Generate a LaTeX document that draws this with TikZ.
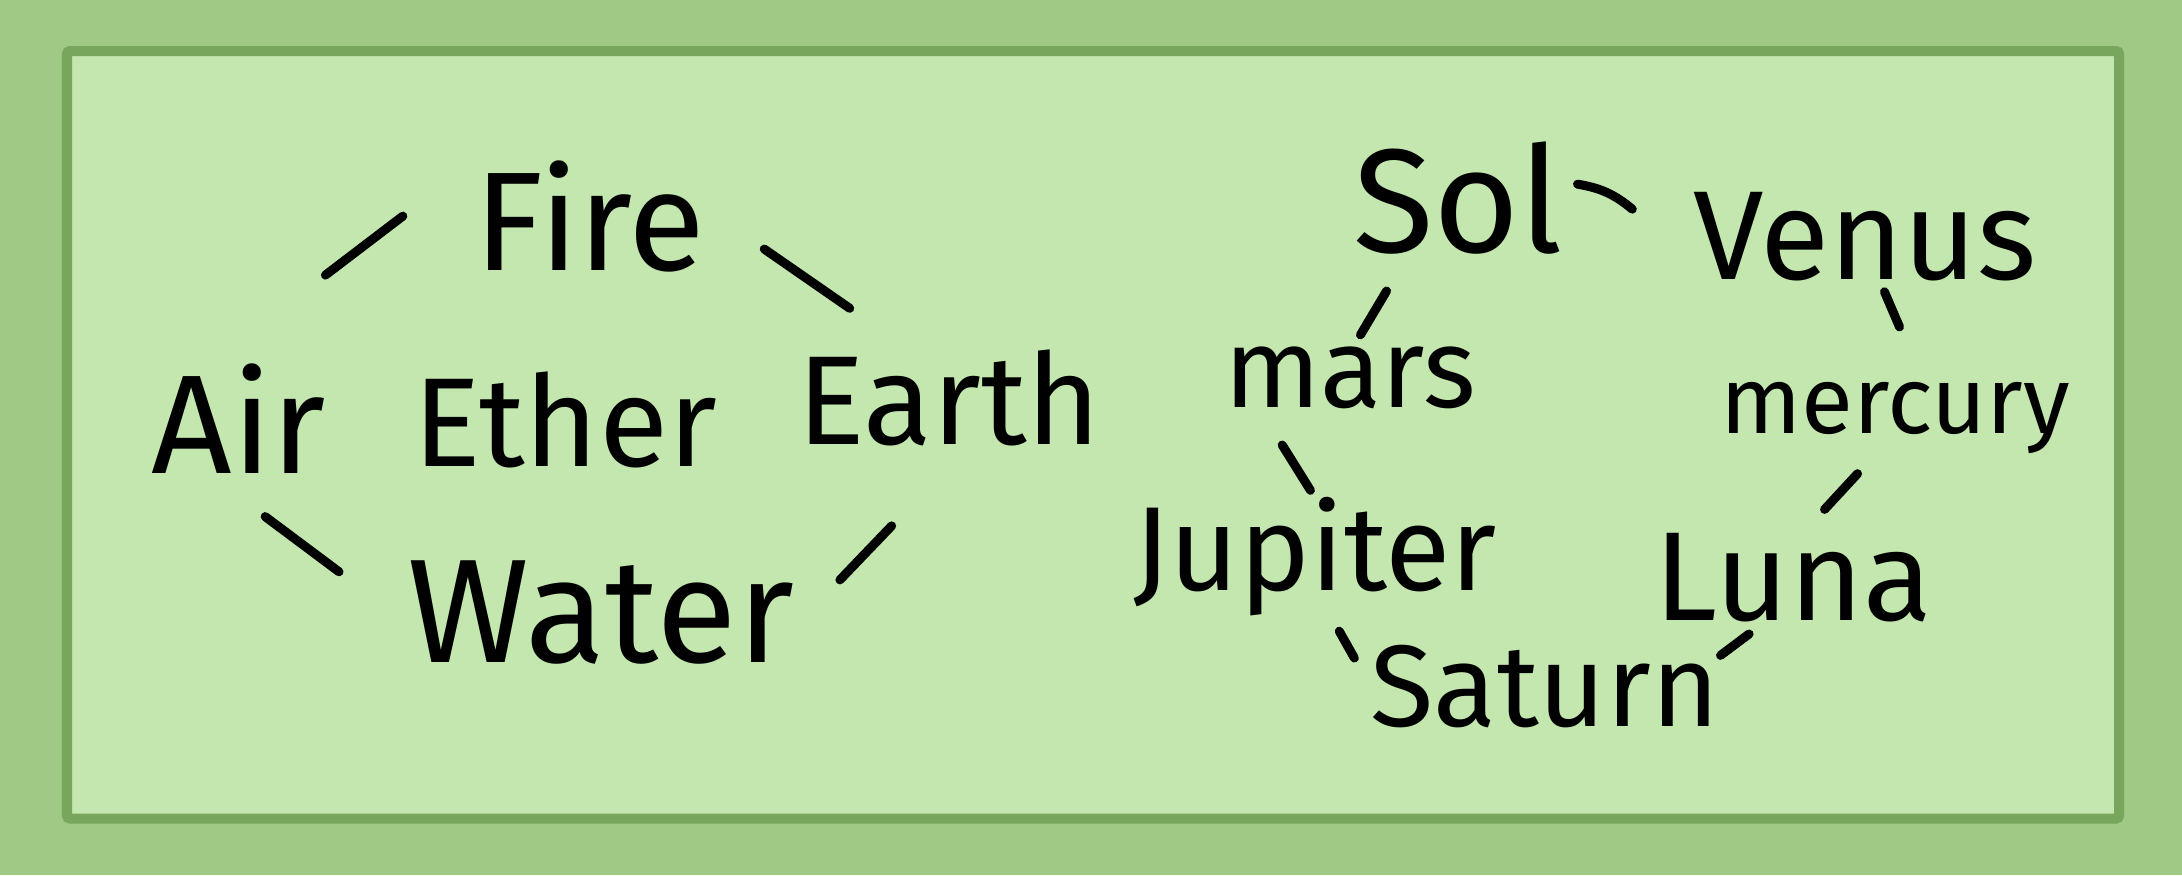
\documentclass[tikz,border=0pt]{standalone}
\usepackage{fontspec}
\setmainfont{Fira Sans}
\usepackage{xcolor}
\usetikzlibrary{calc}

\definecolor{outergreen}{HTML}{9FC984}
\definecolor{framegreen}{HTML}{78A65C}
\definecolor{innergreen}{HTML}{C3E7AE}

\begin{document}
\begin{tikzpicture}[
                x=0.01cm, y=-0.01cm,
                word/.style = {inner sep=0pt, outer sep=0pt, font=\fontsize{36}{40}\selectfont},
                link/.style = {line width=0.09cm, line cap=round},
                % Stile per la cornice
                frame/.style = {draw=framegreen, fill=innergreen, line width=0.1cm, rounded corners=0.03cm}
                ]

                % --- Sfondo e cornice ---
                \fill[outergreen] (0,0) rectangle (2182,875);
                \useasboundingbox (0,0) rectangle (2182,875);
                \draw[frame] (67,51) rectangle (2119,818.5);

                % --- Elementi ---
                \node[word, minimum width=2.53cm, minimum height=1.26cm, font=\fontsize{40}{44}\selectfont] (fire) at (590,216) {Fire};
                \node[word, minimum width=1.81cm, minimum height=1.56cm, font=\fontsize{40}{44}\selectfont] (air) at (239,419) {Air};
                \node[word, minimum width=2.88cm, minimum height=1.11cm] (ether) at (565,420) {Ether};
                \node[word, minimum width=2.85cm, minimum height=1.36cm] (earth) at (949,398) {Earth};
                \node[word, minimum width=4.16cm, minimum height=1.25cm, font=\fontsize{42}{46}\selectfont] (water) at (601,612) {Water};

                % --- Pianeti ---
                \node[word, minimum width=2.16cm, minimum height=1.32cm, font=\fontsize{42}{46}\selectfont] (sol) at (1458,198) {Sol};
                \node[word, minimum width=3.40cm, minimum height=1.25cm] (venus) at (1865,237) {Venus};
                \node[word, minimum width=2.43cm, minimum height=0.93cm, font=\fontsize{32}{36}\selectfont] (mars) at (1350,378) {mars};
                \node[word, minimum width=3.43cm, minimum height=1.25cm, font=\fontsize{27}{30}\selectfont] (mercury) at (1895,418) {mercury};
                \node[word, minimum width=3.54cm, minimum height=1.11cm, font=\fontsize{34}{38}\selectfont] (jupiter) at (1315,557) {Jupiter};
                \node[word, minimum width=2.60cm, minimum height=0.97cm] (luna) at (1793,578) {Luna};
                \node[word, minimum width=3.39cm, minimum height=1.07cm, font=\fontsize{33}{36}\selectfont] (saturn) at (1545,687) {Saturn};

                % --- Tratti tra gli elementi ---
                \draw[link] ($(air.north)!.385!(fire.160)$) -- ($(air.north)!.73!(fire.160)$);
                \draw[link] ($(fire.east)!.29!(earth.135)$) -- ($(fire.east)!.81!(earth.135)$);
                \draw[link] ($(air.south)!.17!(water.west)$) -- ($(air.south)!.65!(water.west)$);
                \draw[link] ($(water.east)!.22!(earth.south)$) -- ($(water.east)!.59!(earth.south)$);

                % --- Tratti tra i pianeti ---
                \draw[link] ($(sol.10)!.09!(venus.west)$) to[bend left=15] ($(sol.10)!.52!(venus.west)$);
                \draw[link] ($(sol.230)!.40!(mars.75)$) -- ($(sol.230)!1.05!(mars.75)$);
                \draw[link] ($(venus.-70)!-.14!(mercury.75)$) -- ($(venus.-70)!.49!(mercury.75)$);
                \draw[link] ($(mars.210)!.28!(jupiter.north)$) -- ($(mars.210)!.9!(jupiter.north)$);
                \draw[link] ($(mercury.235)!-.14!(luna.75)$) -- ($(mercury.235)!.59!(luna.75)$);
                \draw[link] ($(jupiter.-75)!.21!(saturn.west)$) -- ($(jupiter.-75)!.59!(saturn.west)$);
                \draw[link] ($(luna.235)!.25!(saturn.10)$) -- ($(luna.235)!.97!(saturn.10)$);

            \end{tikzpicture}
\end{document}
